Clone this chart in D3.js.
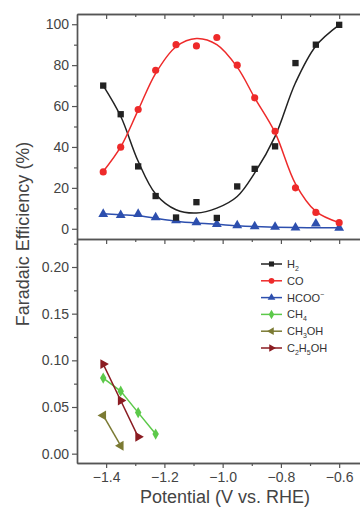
<html lang="en">
<head>
<meta charset="utf-8">
<title>Faradaic efficiency</title>
<style>
  body { margin: 0; background: white; font-family: Arial, "Liberation Sans", Helvetica, sans-serif; }
  .tick text { fill: #444; font-size: 14px; font-family: Arial, "Liberation Sans", sans-serif; }
  .axis path, .axis line { stroke: #555; }
  .legend text { font-size: 11px; fill: #333; }
</style>
</head>
<body>
<div id="chart"></div>
<script src="https://d3js.org/d3.v7.min.js"></script>
<script>
// potentials (V vs. RHE)
var potentials = [-1.41, -1.35, -1.29, -1.23, -1.16, -1.09, -1.02, -0.95, -0.89, -0.82, -0.75, -0.68, -0.60];

// top panel, measured points (%)
var h2 = [70, 56, 30.5, 16, 5.5, 13, 5.3, 20.7, 29.3, 40.3, 81, 90, 99.7];
var co = [27.8, 39.9, 58.3, 77.5, 90, 89.4, 93.5, 80, 64, 47.7, 20, 8, 3];
var hcoo = [7.2, 6.6, 7.2, 5.5, 4.1, 3.1, 2.3, 1.6, 1.1, 0.9, 0.5, 2.5, 0.4];

// top panel, fitted curves
var h2Fit = [70, 55, 33, 17, 9.3, 7.7, 10.1, 15.8, 27.3, 45.2, 71.4, 89.4, 99.7];
var coFit = [28, 40, 58, 76, 89, 93, 90, 79, 64, 47, 22, 8.5, 3];
var hcooFit = [7.4, 6.9, 6.4, 5.1, 3.7, 2.8, 2.2, 1.5, 1.1, 0.8, 0.6, 0.5, 0.5];

// bottom panel (%)
var ch4X = [-1.41, -1.35, -1.29, -1.23];
var ch4 = [0.081, 0.067, 0.044, 0.021];
var ch3ohX = [-1.41, -1.35];
var ch3oh = [0.041, 0.0085];
var c2h5ohX = [-1.41, -1.35, -1.29];
var c2h5oh = [0.096, 0.057, 0.018];

var xTicks = [-1.4, -1.2, -1.0, -0.8, -0.6];
var xMinor = [-1.3, -1.1, -0.9, -0.7];
var topTicks = [0, 20, 40, 60, 80, 100];
var bottomTicks = [0, 0.05, 0.10, 0.15, 0.20];

var width = 360, height = 511;
var svg = d3.select("#chart").append("svg")
    .attr("width", width).attr("height", height);

var x = d3.scaleLinear().domain([-1.5, -0.5]).range([77, 368.3]);
var yTop = d3.scaleLinear().domain([-5, 105]).range([239, 14]);
var yBot = d3.scaleLinear().domain([-0.01, 0.23]).range([463, 239]);

var colors = {
  h2: "#222222", co: "#ee2a2a", hcoo: "#2d4fae",
  ch4: "#5cc94a", ch3oh: "#7b7a33", c2h5oh: "#8b1c22"
};

// frames / axes
function drawAxes() {
  // left axis, top panel
  svg.append("g").attr("class", "axis")
    .attr("transform", "translate(77,0)")
    .call(d3.axisLeft(yTop).tickValues(topTicks).tickSize(5).tickPadding(3).tickSizeOuter(0));
  svg.append("g").attr("class", "axis")
    .attr("transform", "translate(77,0)")
    .call(d3.axisLeft(yTop).tickValues(d3.range(10, 100, 20)).tickSize(3).tickFormat("").tickSizeOuter(0));

  // left axis, bottom panel
  svg.append("g").attr("class", "axis")
    .attr("transform", "translate(77,0)")
    .call(d3.axisLeft(yBot).tickValues(bottomTicks).tickSize(5).tickPadding(3)
      .tickFormat(d3.format(".2f")).tickSizeOuter(0));
  svg.append("g").attr("class", "axis")
    .attr("transform", "translate(77,0)")
    .call(d3.axisLeft(yBot).tickValues([0.025, 0.075, 0.125, 0.175, 0.225]).tickSize(3).tickFormat("").tickSizeOuter(0));

  // bottom axis
  svg.append("g").attr("class", "axis")
    .attr("transform", "translate(0,463)")
    .call(d3.axisBottom(x).tickValues(xTicks).tickSize(5).tickPadding(4)
      .tickFormat(d3.format(".1f")).tickSizeOuter(0));
  svg.append("g").attr("class", "axis")
    .attr("transform", "translate(0,463)")
    .call(d3.axisBottom(x).tickValues(xMinor).tickSize(3).tickFormat("").tickSizeOuter(0));

  // top edge and separator, inward ticks
  [14, 239].forEach(function(yy) {
    svg.append("g").attr("class", "axis")
      .attr("transform", "translate(0," + yy + ")")
      .call(d3.axisBottom(x).tickValues(xTicks).tickSize(5).tickFormat("").tickSizeOuter(0));
    svg.append("g").attr("class", "axis")
      .attr("transform", "translate(0," + yy + ")")
      .call(d3.axisBottom(x).tickValues(xMinor).tickSize(3).tickFormat("").tickSizeOuter(0));
  });

  svg.selectAll(".axis path").attr("stroke-width", 1.4);
  svg.selectAll(".axis line").attr("stroke-width", 1.2);
}
drawAxes();

var triUp = d3.symbol().type(d3.symbolTriangle).size(42);
var square = d3.symbol().type(d3.symbolSquare).size(40);
var circle = d3.symbol().type(d3.symbolCircle).size(40);
var diamond = d3.symbol().type(d3.symbolDiamond).size(36);

function drawPoints(xs, ys, yScale, shape, color, rot) {
  svg.append("g").selectAll("path")
    .data(ys).enter().append("path")
    .attr("d", shape())
    .attr("fill", color)
    .attr("transform", function(d, i) {
      return "translate(" + x(xs[i]) + "," + yScale(d) + ") rotate(" + (rot || 0) + ")";
    });
}

function drawLine(xs, ys, yScale, color, curve) {
  var line = d3.line()
    .x(function(d, i) { return x(xs[i]); })
    .y(function(d) { return yScale(d); })
    .curve(curve || d3.curveLinear);
  svg.append("path").datum(ys)
    .attr("d", line)
    .attr("fill", "none")
    .attr("stroke", color)
    .attr("stroke-width", 1.5);
}

// top panel
drawLine(potentials, hcooFit, yTop, colors.hcoo, d3.curveMonotoneX);
drawLine(potentials, h2Fit, yTop, colors.h2, d3.curveCatmullRom);
drawLine(potentials, coFit, yTop, colors.co, d3.curveCatmullRom);
drawPoints(potentials, hcoo, yTop, triUp, colors.hcoo);
drawPoints(potentials, h2, yTop, square, colors.h2);
drawPoints(potentials, co, yTop, circle, colors.co);

// bottom panel
drawLine(ch4X, ch4, yBot, colors.ch4);
drawPoints(ch4X, ch4, yBot, diamond, colors.ch4);
drawLine(ch3ohX, ch3oh, yBot, colors.ch3oh);
drawPoints(ch3ohX, ch3oh, yBot, triUp, colors.ch3oh, -90);
drawLine(c2h5ohX, c2h5oh, yBot, colors.c2h5oh);
drawPoints(c2h5ohX, c2h5oh, yBot, triUp, colors.c2h5oh, 90);

// legend
var legendItems = [
  { parts: [["H", ""], ["2", "sub"]], color: colors.h2, type: d3.symbolSquare, rot: 0 },
  { parts: [["CO", ""]], color: colors.co, type: d3.symbolCircle, rot: 0 },
  { parts: [["HCOO", ""], ["\u2212", "sup"]], color: colors.hcoo, type: d3.symbolTriangle, rot: 0 },
  { parts: [["CH", ""], ["4", "sub"]], color: colors.ch4, type: d3.symbolDiamond, rot: 0 },
  { parts: [["CH", ""], ["3", "sub"], ["OH", ""]], color: colors.ch3oh, type: d3.symbolTriangle, rot: -90 },
  { parts: [["C", ""], ["2", "sub"], ["H", ""], ["5", "sub"], ["OH", ""]], color: colors.c2h5oh, type: d3.symbolTriangle, rot: 90 }
];

var legend = svg.append("g").attr("class", "legend");
legendItems.forEach(function(item, i) {
  var yy = 264 + i * 16.8;
  legend.append("line")
    .attr("x1", 261).attr("x2", 282).attr("y1", yy).attr("y2", yy)
    .attr("stroke", item.color).attr("stroke-width", 1.5);
  legend.append("path")
    .attr("d", d3.symbol().type(item.type).size(26)())
    .attr("fill", item.color)
    .attr("transform", "translate(271.5," + yy + ") rotate(" + item.rot + ")");
  var t = legend.append("text").attr("x", 287).attr("y", yy + 4);
  item.parts.forEach(function(p, j) {
    var ts = t.append("tspan").text(p[0]);
    if (p[1] === "sub") ts.attr("font-size", "7px").attr("dy", 3);
    if (p[1] === "sup") ts.attr("font-size", "7px").attr("dy", -5);
    if (p[1] === "" && j > 0) {
      // back to the baseline after a sub/sup
      var prev = item.parts[j - 1];
      if (prev[1] === "sub") ts.attr("dy", -3);
      if (prev[1] === "sup") ts.attr("dy", 5);
    }
  });
});

// axis titles
svg.append("text")
  .attr("transform", "translate(29,234) rotate(-90)")
  .attr("text-anchor", "middle")
  .attr("font-size", 18)
  .attr("fill", "#444")
  .text("Faradaic Efficiency (%)");

svg.append("text")
  .attr("x", 225).attr("y", 503)
  .attr("text-anchor", "middle")
  .attr("font-size", 18)
  .attr("fill", "#444")
  .text("Potential (V vs. RHE)");
</script>
</body>
</html>
